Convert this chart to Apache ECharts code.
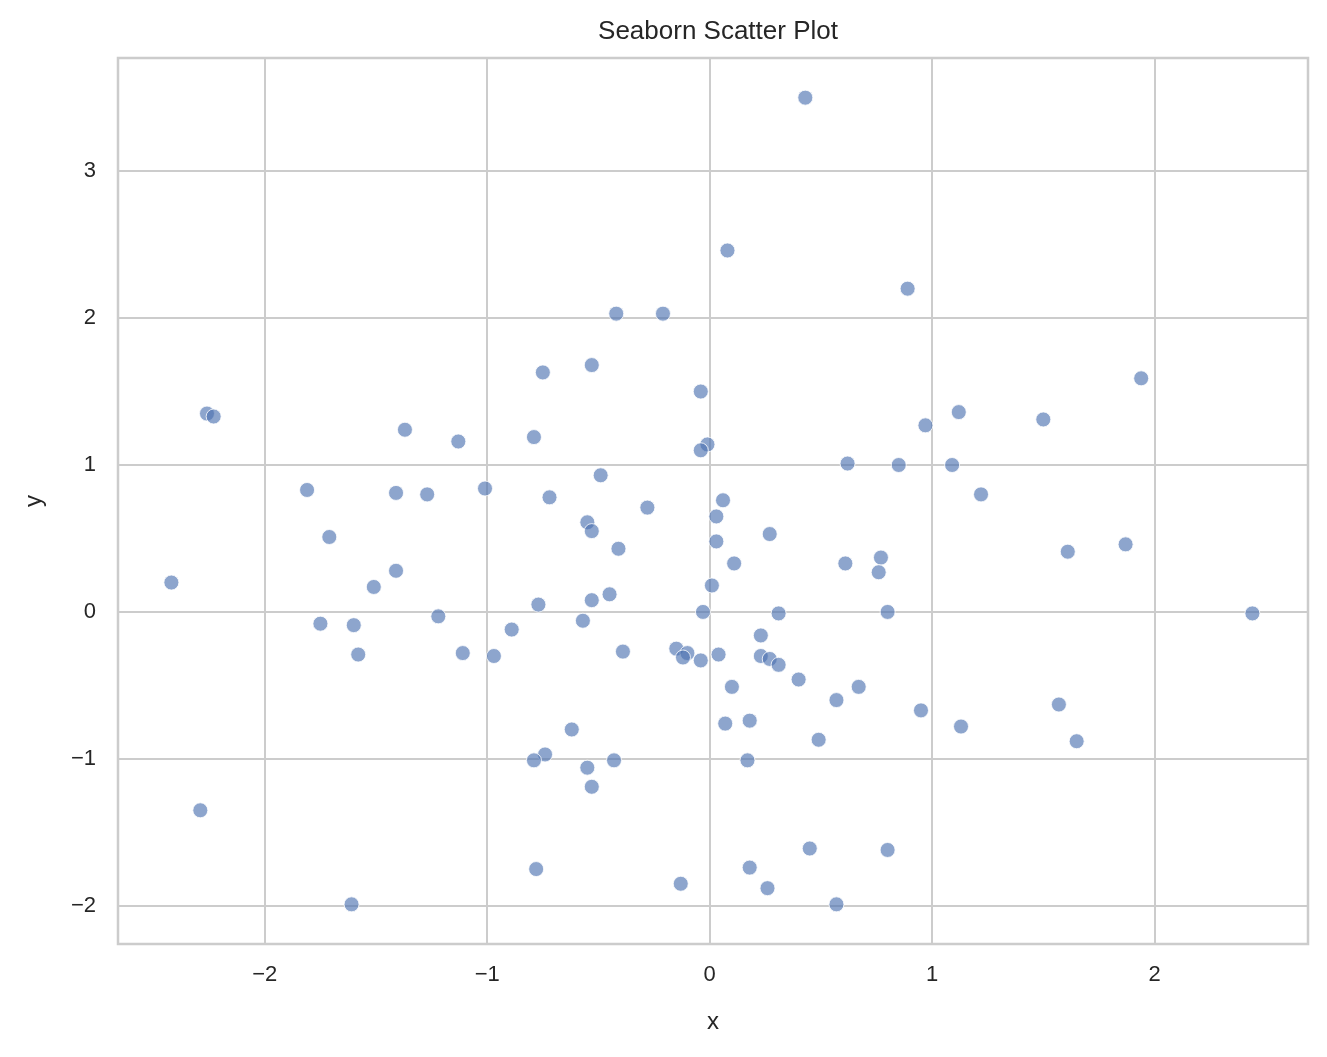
<!DOCTYPE html>
<html><head><meta charset="utf-8">
<script src="https://cdn.jsdelivr.net/npm/echarts@6/dist/echarts.min.js"></script>
<style>html,body{margin:0;padding:0;background:#fff}#c{width:1327px;height:1057px}</style>
</head><body><div id="c"></div>
<script>
const xs = [0.43,0.08,0.89,-0.42,-0.21,-0.53,-0.75,1.94,-0.04,-2.26,-2.23,1.12,1.50,0.97,-1.37,-1.13,-0.79,-0.01,-0.04,0.62,0.85,1.09,-0.49,-1.81,-1.41,-1.27,-1.01,-0.72,1.22,0.06,-0.28,0.03,-0.55,-0.53,0.27,-1.71,0.03,1.87,-0.41,1.61,0.77,0.11,0.61,0.76,-1.41,-2.42,0.01,-1.51,-0.45,-0.53,-0.77,-0.03,0.31,0.80,2.44,-1.22,-0.57,-1.75,-1.60,-0.89,0.23,-0.39,-0.15,-1.58,-1.11,-0.10,-0.12,-0.97,-0.04,0.04,0.23,0.27,0.31,0.40,0.67,0.10,0.57,1.57,0.95,0.07,0.18,1.13,-0.62,0.49,1.65,-0.74,-0.79,-0.43,0.17,-0.55,-0.53,-2.29,0.45,0.80,0.18,-0.78,-0.13,0.26,-1.61,0.57];
const ys = [3.50,2.46,2.20,2.03,2.03,1.68,1.63,1.59,1.50,1.35,1.33,1.36,1.31,1.27,1.24,1.16,1.19,1.14,1.10,1.01,1.00,1.00,0.93,0.83,0.81,0.80,0.84,0.78,0.80,0.76,0.71,0.65,0.61,0.55,0.53,0.51,0.48,0.46,0.43,0.41,0.37,0.33,0.33,0.27,0.28,0.20,0.18,0.17,0.12,0.08,0.05,0.00,-0.01,0.00,-0.01,-0.03,-0.06,-0.08,-0.09,-0.12,-0.16,-0.27,-0.25,-0.29,-0.28,-0.28,-0.31,-0.30,-0.33,-0.29,-0.30,-0.32,-0.36,-0.46,-0.51,-0.51,-0.60,-0.63,-0.67,-0.76,-0.74,-0.78,-0.80,-0.87,-0.88,-0.97,-1.01,-1.01,-1.01,-1.06,-1.19,-1.35,-1.61,-1.62,-1.74,-1.75,-1.85,-1.88,-1.99,-1.99];
const xTicks = [-2,-1,0,1,2];
const yTicks = [-2,-1,0,1,2,3];
const font = '"Liberation Sans", Arial, sans-serif';
const fmt = v => (v < 0 ? '\u2212' + Math.abs(Math.round(v)) : String(Math.round(v)));
const chart = echarts.init(document.getElementById('c'));
const gridLines = xTicks.map(v => ({xAxis: v})).concat(yTicks.map(v => ({yAxis: v})));
chart.setOption({
  backgroundColor: '#fff',
  animation: false,
  title: {text: 'Seaborn Scatter Plot', left: 713, top: 14, textAlign: 'center',
    textStyle: {fontFamily: font, fontSize: 26, fontWeight: 'normal', color: '#262626'}},
  grid: {left: 118, right: 19, top: 58, bottom: 113, show: true, borderColor: '#cccccc', borderWidth: 2.5, backgroundColor: '#fff'},
  xAxis: {type: 'value', min: -2.66, max: 2.69,
    name: 'x', nameLocation: 'middle', nameGap: 66,
    nameTextStyle: {fontFamily: font, fontSize: 24, color: '#262626'},
    axisLine: {show: false}, axisTick: {show: false, customValues: xTicks}, splitLine: {show: false},
    axisLabel: {customValues: xTicks, fontFamily: font, fontSize: 22, color: '#262626', margin: 20, formatter: fmt}},
  yAxis: {type: 'value', min: -2.26, max: 3.77,
    name: 'y', nameLocation: 'middle', nameGap: 72,
    nameTextStyle: {fontFamily: font, fontSize: 24, color: '#262626'},
    axisLine: {show: false}, axisTick: {show: false, customValues: yTicks}, splitLine: {show: false},
    axisLabel: {customValues: yTicks, fontFamily: font, fontSize: 22, color: '#262626', margin: 22, formatter: fmt}},
  series: [{
    type: 'scatter', symbolSize: 15,
    data: xs.map((x, i) => [x, ys[i]]),
    itemStyle: {color: 'rgba(76,114,176,0.8)', borderColor: '#fff', borderWidth: 1},
    markLine: {silent: true, symbol: 'none', label: {show: false},
      lineStyle: {color: '#cccccc', width: 2, type: 'solid'}, data: gridLines, z: 0},
    z: 3
  }]
});
</script></body></html>
